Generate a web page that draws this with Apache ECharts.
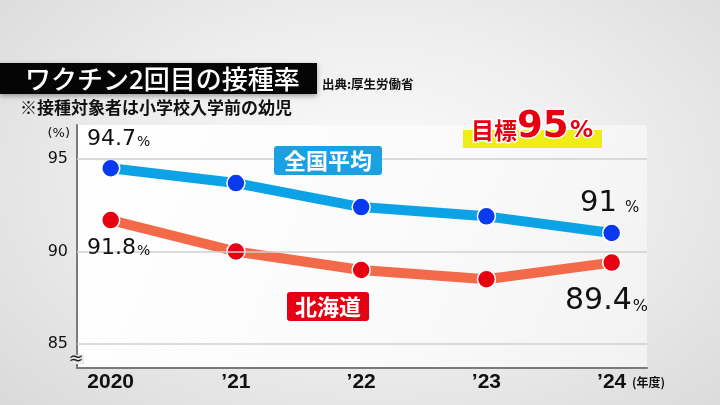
<!DOCTYPE html>
<html>
<head>
<meta charset="utf-8">
<script src="https://cdn.jsdelivr.net/npm/echarts@6/dist/echarts.min.js"></script>
<style>
html,body{margin:0;padding:0;width:720px;height:405px;overflow:hidden;
background:radial-gradient(ellipse 70% 80% at 52% 45%, #fbfbfb 0%, #efefef 45%, #dadada 100%);}
#c{width:720px;height:405px;}
</style>
</head>
<body>
<div id="c"></div>
<script>
const categories = ['2020', '’21', '’22', '’23', '’24'];
const nationalValues = [94.5, 93.7, 92.4, 91.9, 91.0];
const hokkaidoValues = [91.7, 90.0, 89.0, 88.5, 89.4];
const yTicks = [85, 90, 95];
const nationalFirstLabel = '94.7';
const nationalLastLabel = '91';
const hokkaidoFirstLabel = '91.8';
const hokkaidoLastLabel = '89.4';
const targetValue = '95';

const chart = echarts.init(document.getElementById('c'), null, {renderer: 'canvas'});
const idx = categories.map((c, i) => i);
const CJK = '"Noto Sans CJK JP", "Noto Sans", sans-serif';
const NUM = '"DejaVu Sans", sans-serif';

const measureCtx = document.createElement('canvas').getContext('2d');
function textWidth(t, font) { measureCtx.font = font; return measureCtx.measureText(t).width; }

// number label with a smaller % sitting on the same baseline
function pctLabel(text, x, baseline, numSize, pctSize, gap) {
  const numFont = numSize + 'px ' + NUM;
  const w = textWidth(text, numFont);
  return [
    {type: 'text', z: 101, x: x, y: baseline - 0.36 * numSize,
      style: {text: text, fill: '#111', font: numFont, verticalAlign: 'middle'}},
    {type: 'text', z: 101, x: x + w + gap, y: baseline - 0.36 * pctSize,
      style: {text: '%', fill: '#111', font: pctSize + 'px ' + NUM, verticalAlign: 'middle'}}
  ];
}

const option = {
  animation: false,
  backgroundColor: 'transparent',
  grid: {
    left: 77, right: 73, top: 125, bottom: 37, show: true, borderWidth: 0,
    backgroundColor: {type: 'linear', x: 0, y: 0, x2: 1, y2: 1, colorStops: [
      {offset: 0, color: '#ffffff'}, {offset: 0.6, color: '#fafafa'}, {offset: 1, color: '#f2f2f2'}]}
  },
  xAxis: {
    type: 'value', min: -0.269, max: 4.282,
    axisLine: {show: true, onZero: false, lineStyle: {color: '#7a7a7a', width: 2}},
    axisTick: {show: false},
    splitLine: {show: false},
    axisLabel: {
      customValues: idx,
      formatter: v => categories[Math.round(v)],
      color: '#111', fontSize: 21, fontWeight: 'bold',
      fontFamily: '"Liberation Sans", Arial, sans-serif', margin: 4
    }
  },
  yAxis: {
    type: 'value', min: 83.7, max: 96.84,
    axisLine: {show: true, onZero: false, lineStyle: {color: '#7a7a7a', width: 2}},
    axisTick: {show: false},
    splitLine: {show: false},
    axisLabel: {
      customValues: yTicks,
      color: '#111', fontSize: 16, fontFamily: NUM, margin: 9
    }
  },
  series: [
    {
      type: 'line', data: [], silent: true, z: 1,
      markLine: {
        silent: true, symbol: 'none', label: {show: false},
        lineStyle: {color: '#cfcfcf', width: 1.5, type: 'solid'},
        data: yTicks.map(v => ({yAxis: v}))
      }
    },
    {
      name: '全国平均', type: 'line', z: 3,
      data: nationalValues.map((v, i) => [i, v]),
      lineStyle: {color: '#0BA3E6', width: 10},
      symbol: 'circle', symbolSize: 18,
      itemStyle: {color: '#0A3AF0', borderColor: '#ffffff', borderWidth: 1.5}
    },
    {
      name: '北海道', type: 'line', z: 3,
      data: hokkaidoValues.map((v, i) => [i, v]),
      lineStyle: {color: '#F36A4A', width: 10},
      symbol: 'circle', symbolSize: 18,
      itemStyle: {color: '#E60012', borderColor: '#ffffff', borderWidth: 1.5}
    }
  ],
  graphic: [
    // title block
    {type: 'rect', z: 100, shape: {x: 0, y: 63, width: 317, height: 31},
      style: {fill: '#050505', shadowBlur: 5, shadowOffsetY: 2, shadowColor: 'rgba(0,0,0,0.35)'}},
    {type: 'text', z: 101, x: 25, y: 79,
      style: {text: 'ワクチン2回目の接種率', fill: '#ffffff', font: '500 26px ' + CJK, verticalAlign: 'middle'}},
    {type: 'text', z: 101, x: 322, y: 84,
      style: {text: '出典:厚生労働省', fill: '#111', font: 'bold 12.5px ' + CJK, verticalAlign: 'middle'}},
    {type: 'text', z: 101, x: 20, y: 108,
      style: {text: '※接種対象者は小学校入学前の幼児', fill: '#111', font: 'bold 17px ' + CJK, verticalAlign: 'middle'}},
    // axis extras
    {type: 'text', z: 101, x: 70, y: 134,
      style: {text: '(%)', fill: '#111', font: '13px ' + NUM, align: 'right', verticalAlign: 'middle'}},
    {type: 'rect', z: 101, shape: {x: 70, y: 355, width: 14, height: 9}, style: {fill: '#e9e9e9'}},
    {type: 'text', z: 102, x: 76, y: 359,
      style: {text: '≈', fill: '#222', font: '18px ' + NUM, align: 'center', verticalAlign: 'middle'}},
    {type: 'text', z: 101, x: 632, y: 382,
      style: {text: '(年度)', fill: '#111', font: 'bold 12px ' + CJK, verticalAlign: 'middle'}},
    // value labels
    ...pctLabel(nationalFirstLabel, 87, 147.7, 22, 14, 1),
    ...pctLabel(hokkaidoFirstLabel, 87, 256.7, 22, 14, 1),
    ...pctLabel(nationalLastLabel, 580, 214, 29, 15, 8),
    ...pctLabel(hokkaidoLastLabel, 565, 312.3, 30, 16, 1),
    // series tags
    {type: 'rect', z: 101, shape: {x: 274, y: 146, width: 108, height: 29, r: 3}, style: {fill: '#1BA1E2'}},
    {type: 'text', z: 102, x: 328, y: 161,
      style: {text: '全国平均', fill: '#ffffff', font: 'bold 22px ' + CJK, align: 'center', verticalAlign: 'middle'}},
    {type: 'rect', z: 101, shape: {x: 287, y: 292, width: 82, height: 29, r: 3}, style: {fill: '#E60012'}},
    {type: 'text', z: 102, x: 328, y: 307,
      style: {text: '北海道', fill: '#ffffff', font: 'bold 22px ' + CJK, align: 'center', verticalAlign: 'middle'}},
    // target
    {type: 'rect', z: 101, shape: {x: 463, y: 130, width: 139, height: 18}, style: {fill: '#F0EC16'}},
    {type: 'text', z: 102, x: 471, y: 130,
      style: {text: '目標', fill: '#E60012', stroke: '#ffffff', lineWidth: 3, strokeFirst: true,
        font: 'bold 23px ' + CJK, verticalAlign: 'middle'}},
    {type: 'text', z: 102, x: 517, y: 127,
      style: {text: targetValue, fill: '#E60012', stroke: '#ffffff', lineWidth: 3, strokeFirst: true,
        font: 'bold 37px ' + NUM, verticalAlign: 'middle'}},
    {type: 'text', z: 102, x: 570, y: 131,
      style: {text: '%', fill: '#E60012', stroke: '#ffffff', lineWidth: 3, strokeFirst: true,
        font: 'bold 23px ' + NUM, verticalAlign: 'middle'}}
  ]
};
chart.setOption(option);
</script>
</body>
</html>
